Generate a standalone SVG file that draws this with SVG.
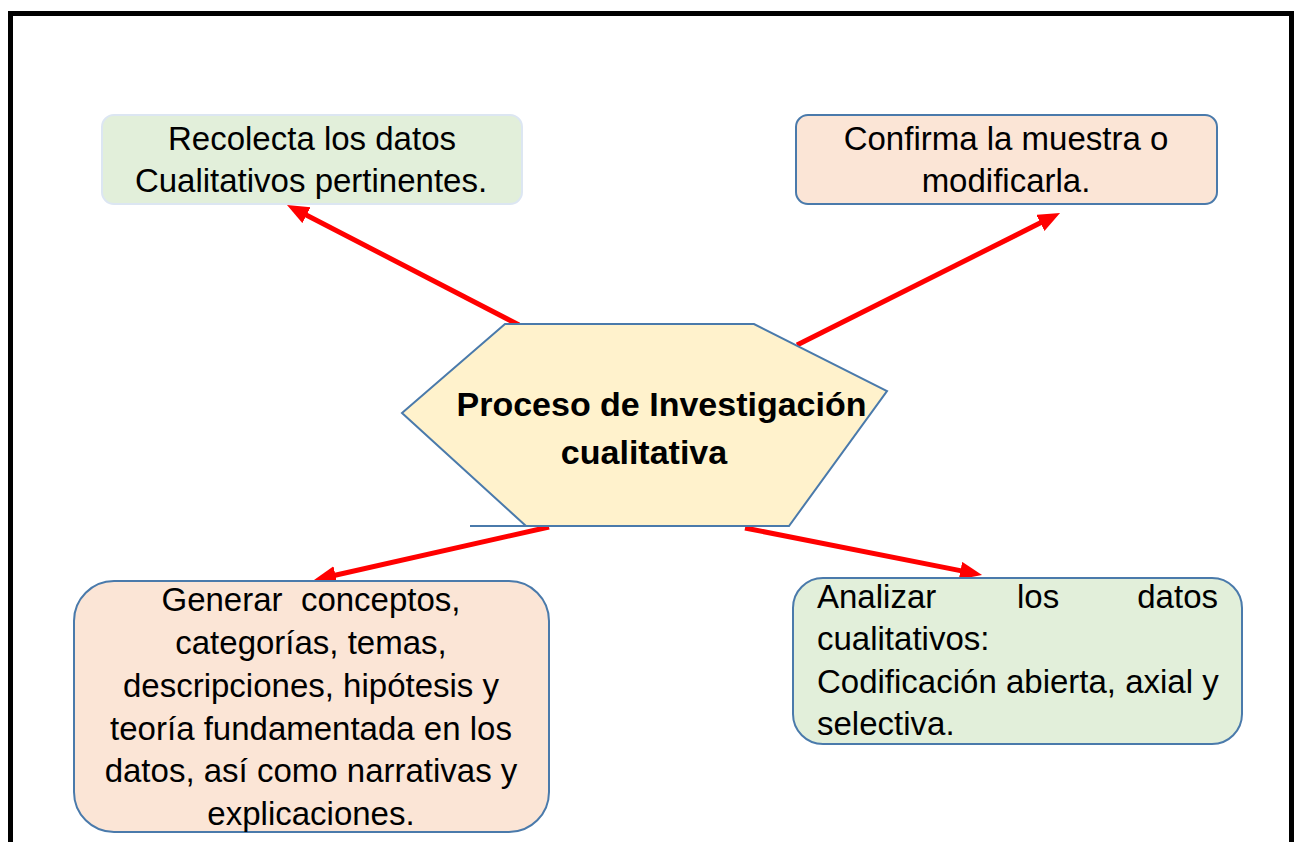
<svg xmlns="http://www.w3.org/2000/svg" width="1300" height="842" viewBox="0 0 1300 842">
  <defs>
    <style>
      .t { font-family: "Liberation Sans", Arial, sans-serif; font-size: 33px; fill: #000; }
      .c { text-anchor: middle; }
      .b { font-weight: bold; font-size: 34px; }
      .green { fill: #E2EFDA; }
      .peach { fill: #FBE5D6; }
      .blue { stroke: #4A7AAB; stroke-width: 2; }
      .arrow { stroke: #FF0000; stroke-width: 5; fill: none; marker-end: url(#head); }
    </style>
    <marker id="head" markerUnits="userSpaceOnUse" markerWidth="24" markerHeight="20" refX="14" refY="9" orient="auto">
      <path d="M0,0 L22,9 L0,18 z" fill="#FF0000"/>
    </marker>
  </defs>
  <rect x="0" y="0" width="1300" height="842" fill="#FFFFFF"/>
  <rect x="10.5" y="13.5" width="1281" height="900" fill="none" stroke="#000" stroke-width="5"/>

  <g id="connectors">
    <line class="arrow" x1="519" y1="325" x2="294.1" y2="208.7"/>
    <line class="arrow" x1="797" y1="345" x2="1052.9" y2="216.6"/>
    <line class="arrow" x1="549" y1="527" x2="321.8" y2="578.2"/>
    <line class="arrow" x1="745" y1="528" x2="974.2" y2="573.4"/>
  </g>

  <g id="center">
    <polygon points="505,324 754,324 887,391 789,526 526,526 402,413" fill="#FFF2CC" class="blue"/>
    <line x1="470" y1="526" x2="526" y2="526" class="blue"/>
    <text class="t b c" x="661.5" y="416">Proceso de Investigación</text>
    <text class="t b c" x="644" y="464">cualitativa</text>
  </g>

  <g id="recolecta">
    <rect x="102" y="115" width="420" height="89" rx="12" class="green" stroke="#DCE6F2" stroke-width="2"/>
    <text class="t c" x="312" y="150">Recolecta los datos</text>
    <text class="t c" x="311" y="192">Cualitativos pertinentes.</text>
  </g>

  <g id="confirma">
    <rect x="796" y="115" width="421" height="89" rx="12" class="peach blue"/>
    <text class="t c" x="1006" y="150">Confirma la muestra o</text>
    <text class="t c" x="1006" y="192">modificarla.</text>
  </g>

  <g id="generar">
    <rect x="74" y="581" width="475" height="251" rx="40" class="peach blue"/>
    <text class="t c" x="311" y="611" style="white-space:pre">Generar  conceptos,</text>
    <text class="t c" x="311" y="654">categorías, temas,</text>
    <text class="t c" x="311" y="697">descripciones, hipótesis y</text>
    <text class="t c" x="311" y="740">teoría fundamentada en los</text>
    <text class="t c" x="311" y="782">datos, así como narrativas y</text>
    <text class="t c" x="311" y="825">explicaciones.</text>
  </g>

  <g id="analizar">
    <rect x="793" y="578" width="449" height="166" rx="30" class="green blue"/>
    <text class="t" x="817" y="608">Analizar</text>
    <text class="t" x="1017" y="608">los</text>
    <text class="t" x="1218" y="608" text-anchor="end">datos</text>
    <text class="t" x="817" y="650">cualitativos:</text>
    <text class="t" x="817" y="693">Codificación abierta, axial y</text>
    <text class="t" x="817" y="735">selectiva.</text>
  </g>
</svg>
